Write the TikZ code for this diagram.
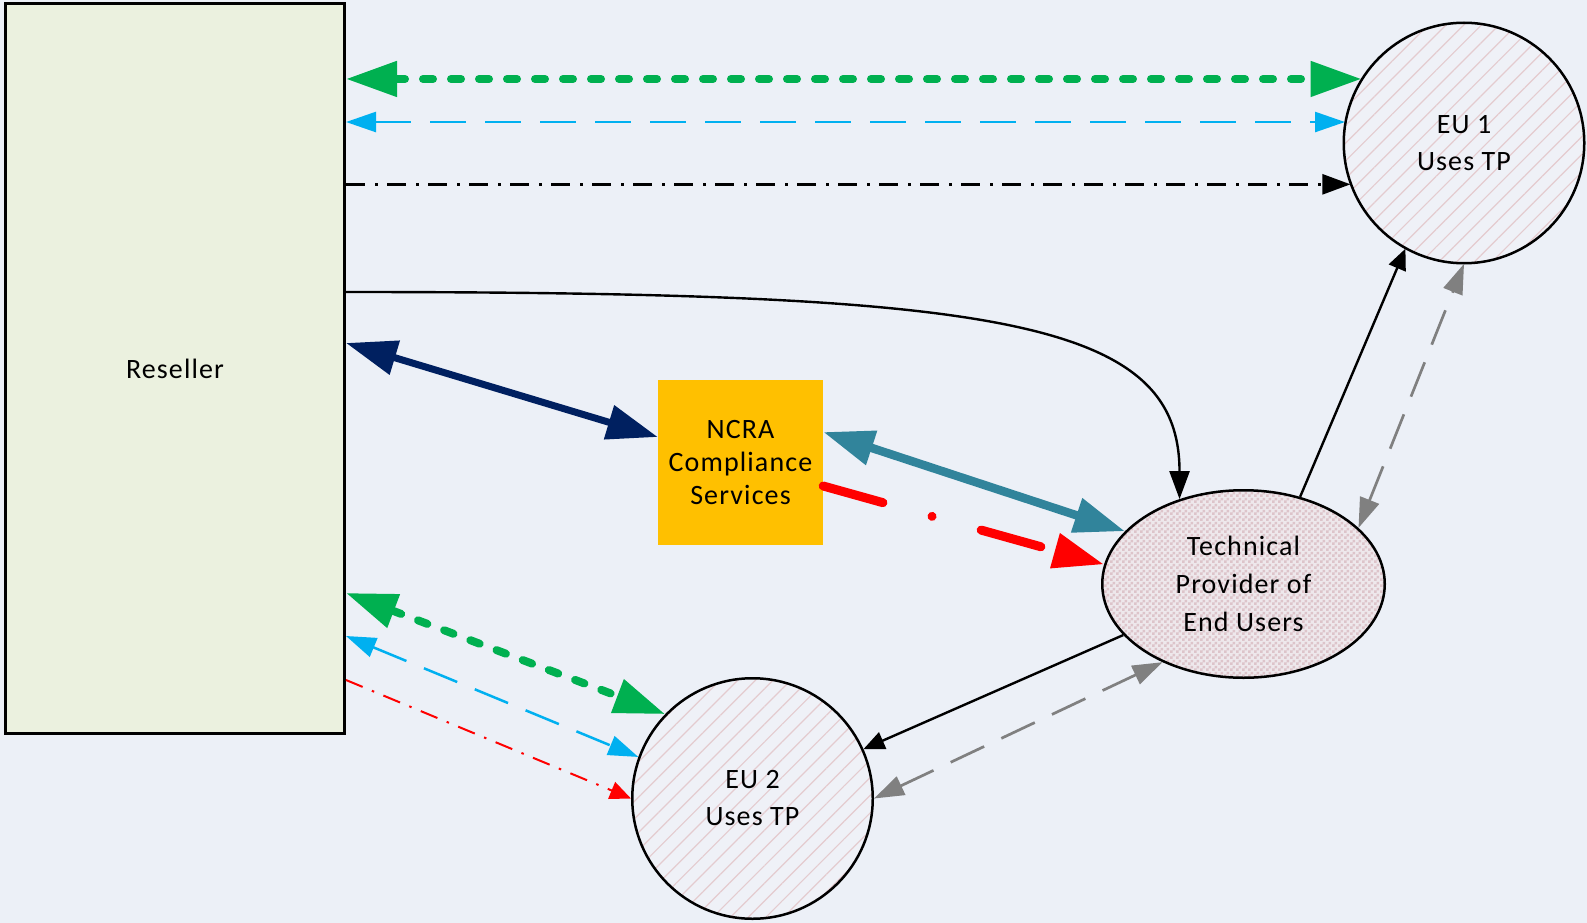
\documentclass[tikz,border=0pt]{standalone}
\usepackage{fontspec}
\setmainfont{Carlito}[LetterSpace=4]
\usetikzlibrary{arrows.meta,shapes.geometric,patterns,patterns.meta}

\pgfdeclarepatternformonly{checker}{\pgfpointorigin}{\pgfqpoint{6pt}{6pt}}{\pgfqpoint{6pt}{6pt}}{%
  \pgfpathrectangle{\pgfpointorigin}{\pgfqpoint{3pt}{3pt}}%
  \pgfpathrectangle{\pgfqpoint{3pt}{3pt}}{\pgfqpoint{3pt}{3pt}}%
  \pgfusepath{fill}}

\definecolor{bgc}{HTML}{ECF0F7}
\definecolor{resfill}{HTML}{EBF1DF}
\definecolor{ncrafill}{HTML}{FFC000}
\definecolor{eufill}{HTML}{EFF1F7}
\definecolor{euline}{HTML}{E4CBCF}
\definecolor{tpfill}{HTML}{EEE8EC}
\definecolor{tpcheck}{HTML}{DDC4CA}
\definecolor{cgreen}{HTML}{00B050}
\definecolor{ccyan}{HTML}{00B0F0}
\definecolor{cnavy}{HTML}{002060}
\definecolor{cteal}{HTML}{31849B}
\definecolor{cred}{HTML}{FF0000}
\definecolor{cgray}{HTML}{808080}

\tikzset{
  BigTip/.tip={Triangle[length=51pt,width=34pt]},
  MidTip/.tip={Triangle[length=30pt,width=20pt]},
  DashTip/.tip={Triangle[length=28pt,width=20pt]},
  SmallTip/.tip={Triangle[length=21pt,width=18pt]},
  CurveTip/.tip={Triangle[length=28pt,width=20pt]},
  resel/.style={draw=black, line width=3pt, fill=resfill, rectangle, inner sep=0pt,
    minimum width=339pt, minimum height=730pt, font=\fontsize{28}{37}\selectfont},
  ncrabox/.style={fill=ncrafill, rectangle, inner sep=0pt, minimum size=165pt,
    align=center, font=\fontsize{28}{33}\selectfont},
  eunode/.style={circle, draw=black, line width=2.5pt, inner sep=0pt, minimum size=240.5pt,
    preaction={fill=eufill},
    pattern={Lines[angle=45,distance=12.5pt,line width=1.2pt]}, pattern color=euline,
    align=center, font=\fontsize{28}{37}\selectfont},
  tpnode/.style={ellipse, draw=black, line width=2.5pt, inner sep=0pt,
    minimum width=282.5pt, minimum height=187.5pt,
    preaction={fill=tpfill}, pattern=checker, pattern color=tpcheck,
    align=center, font=\fontsize{28}{38}\selectfont},
  gdot/.style={draw=cgreen, line width=8pt, line cap=round, dash pattern=on 10pt off 18pt,
    arrows={BigTip-BigTip}},
  cdash/.style={draw=ccyan, line width=2.5pt, dash pattern=on 36pt off 19pt,
    arrows={MidTip-MidTip}},
  kdashdot/.style={draw=black, line width=2.5pt, dash pattern=on 19pt off 10pt on 3pt off 9pt,
    arrows={-DashTip}},
  rdashdot/.style={draw=cred, line width=2pt, dash pattern=on 18pt off 10pt on 2.5pt off 10pt,
    arrows={-SmallTip}},
  kline/.style={draw=black, line width=2.4pt},
  gdash/.style={draw=cgray, line width=2.7pt, dash pattern=on 37pt off 19pt,
    arrows={MidTip-MidTip}},
  navyarrow/.style={draw=cnavy, line width=7pt, arrows={BigTip-BigTip}},
  tealarrow/.style={draw=cteal, line width=8.5pt, arrows={BigTip-BigTip}},
  redthick/.style={draw=cred, line width=9pt, line cap=round,
    dash pattern=on 62pt off 51pt on 0.01pt off 51pt, arrows={-BigTip}},
}

\begin{document}
\begin{tikzpicture}[x=1pt,y=-1pt]
  \fill[bgc] (0,0) rectangle (1587,923);
  \useasboundingbox (0,0) rectangle (1587,923);

  % nodes
  \node[resel] (reseller) at (175,368.5) {Reseller};
  \node[ncrabox] (ncra) at (740.5,462.5) {NCRA\\Compliance\\Services};
  \node[eunode] (eu1) at (1464,143) {EU 1\\Uses TP};
  \node[tpnode] (tp) at (1243.5,584) {Technical\\Provider of\\End Users};
  \node[eunode] (eu2) at (752.5,798.5) {EU 2\\Uses TP};

  % connectors to EU 1
  \draw[gdot] (reseller.east |- eu1.148) -- (eu1.148);
  \draw[cdash] (reseller.east |- eu1.170) -- (eu1.170);
  \draw[kdashdot] (reseller.east |- eu1.200) -- (eu1.200);

  % curve reseller -> technical provider
  \draw[kline, arrows={-CurveTip}] ([yshift=76.5pt]reseller.east)
     .. controls (1000,292) and (1179.5,320) .. (tp.127);

  % reseller <-> NCRA
  \draw[navyarrow] ([yshift=25.5pt]reseller.east) -- ([yshift=25.5pt]ncra.west);
  % NCRA <-> TP
  \draw[tealarrow] ([yshift=30.5pt]ncra.east) -- (tp.156);
  \draw[redthick] ([yshift=-23.5pt]ncra.east) -- (tp.172);

  % TP <-> EU 1
  \draw[kline, arrows={-SmallTip}] (tp.57) -- (eu1.241);
  \draw[gdash] (tp.26) -- (eu1.270);

  % TP <-> EU 2
  \draw[kline, arrows={-SmallTip}] (tp.203) -- (eu2.24);
  \draw[gdash] (tp.224) -- (eu2.0);

  % reseller -> EU 2
  \draw[gdot] ([yshift=-224.5pt]reseller.east) -- (eu2.136);
  \draw[cdash] ([yshift=-267.5pt]reseller.east) -- (eu2.160);
  \draw[rdashdot] ([yshift=-311.5pt]reseller.east) -- (eu2.180);
\end{tikzpicture}
\end{document}
